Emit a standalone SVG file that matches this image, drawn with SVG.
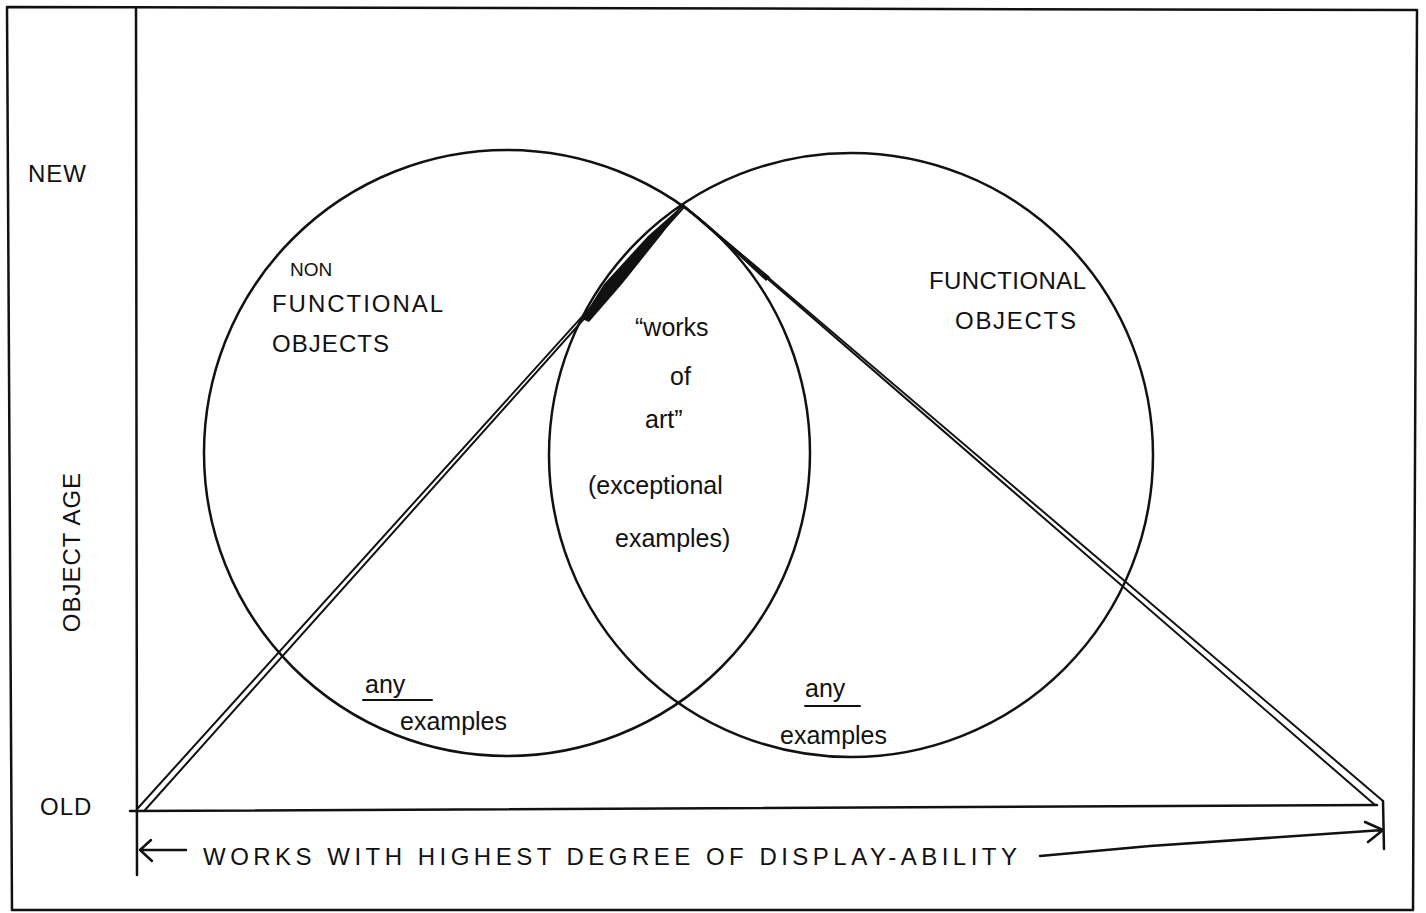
<svg xmlns="http://www.w3.org/2000/svg" width="1426" height="913" viewBox="0 0 1426 913">
<style>
.ln{fill:none;stroke:#111;stroke-width:2.5;stroke-linecap:round;stroke-linejoin:round}
.thin{fill:none;stroke:#111;stroke-width:2;stroke-linecap:round}
.t{font-family:"Liberation Sans",Arial,sans-serif;fill:#111}
.cap{font-size:24px;letter-spacing:1px}
.sm{font-size:25px}
</style>
<rect width="1426" height="913" fill="#fff"/>
<g id="frame">
<path class="ln" d="M7,7 L1417,10 L1413,910 L12,910 Z" stroke-width="3"/>
</g>
<g id="axes">
<line class="ln" x1="136" y1="8" x2="137" y2="875"/>
<line class="ln" x1="130" y1="811" x2="1377" y2="805"/>
<line class="ln" x1="1383" y1="801" x2="1384" y2="849"/>
</g>
<g id="circle-nonfunctional">
<circle class="ln" cx="507" cy="453" r="303"/>
</g>
<g id="circle-functional">
<circle class="ln" cx="851" cy="455" r="302"/>
</g>
<g id="triangle">
<line class="thin" x1="138" y1="808" x2="683" y2="205"/>
<line class="thin" x1="145" y1="810" x2="684" y2="207"/>
<path d="M582,319 L604,284 L648,236 L683,205 L662,234 L622,284 L589,322 Z" fill="#111"/>
<line class="thin" x1="683" y1="205" x2="1383" y2="801"/>
<line class="thin" x1="686" y1="208" x2="1375" y2="805"/>
<path d="M683,204 L770,277 L766,281 Z" fill="#111"/>
</g>
<g id="connectors">
<path class="ln" d="M186,850 L140,850 M151,840 L140,850 L152,861"/>
<path class="ln" d="M1040,856 L1150,846 L1383,830 M1365,822 L1383,830 L1368,842"/>
</g>
<g id="labels">
<text class="t cap" x="28" y="182">NEW</text>
<text class="t cap" x="40" y="815">OLD</text>
<text class="t cap" transform="translate(80,552) rotate(-90)" text-anchor="middle">OBJECT AGE</text>
<text class="t cap" x="203" y="865" textLength="815" lengthAdjust="spacing">WORKS WITH HIGHEST DEGREE OF DISPLAY-ABILITY</text>
</g>
<g id="node-nonfunctional">
<text class="t" x="290" y="276" font-size="19">NON</text>
<text class="t cap" x="272" y="312" textLength="172" lengthAdjust="spacing">FUNCTIONAL</text>
<text class="t cap" x="272" y="352" textLength="118" lengthAdjust="spacing">OBJECTS</text>
</g>
<g id="node-functional">
<text class="t cap" x="929" y="289" textLength="158" lengthAdjust="spacing">FUNCTIONAL</text>
<text class="t cap" x="955" y="329" textLength="122" lengthAdjust="spacing">OBJECTS</text>
</g>
<g id="node-works-of-art">
<text class="t sm" x="635" y="336">“works</text>
<text class="t sm" x="670" y="385">of</text>
<text class="t sm" x="645" y="428">art”</text>
<text class="t sm" x="588" y="494">(exceptional</text>
<text class="t sm" x="615" y="547">examples)</text>
</g>
<g id="node-any-left">
<text class="t sm" x="365" y="693">any</text>
<line class="thin" x1="363" y1="700" x2="432" y2="700"/>
<text class="t sm" x="400" y="730">examples</text>
</g>
<g id="node-any-right">
<text class="t sm" x="805" y="697">any</text>
<line class="thin" x1="805" y1="706" x2="860" y2="706"/>
<text class="t sm" x="780" y="744">examples</text>
</g>
</svg>
